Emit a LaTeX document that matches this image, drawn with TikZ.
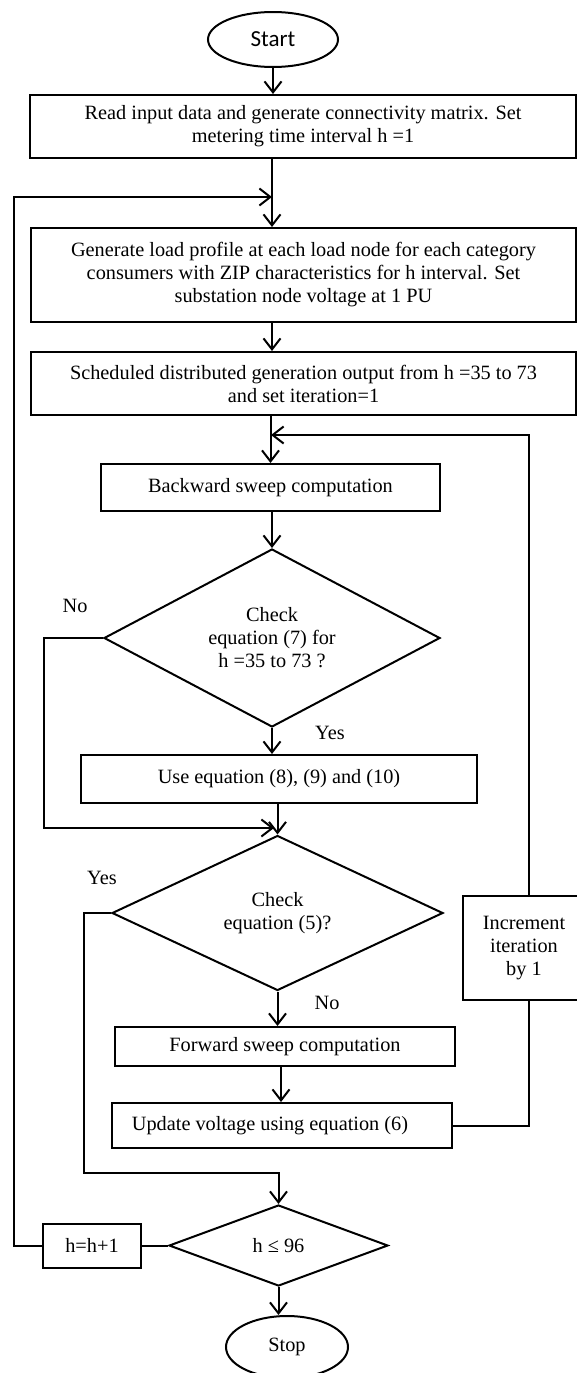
\documentclass[tikz,border=0pt]{standalone}
\usepackage{fontspec}
\setmainfont{Liberation Serif}
\newfontfamily\startfont{Carlito}
\usetikzlibrary{shapes.geometric,arrows.meta}
\begin{document}
\begin{tikzpicture}[x=1pt,y=-1pt,
  every node/.style={font=\fontsize{20.3}{23}\selectfont, inner sep=0pt},
  box/.style={draw, line width=2pt, align=center},
  dec/.style={draw, shape=diamond, line width=2pt, align=center, inner sep=0pt},
  term/.style={draw, ellipse, line width=2pt},
  conn/.style={line width=2pt},
  arr/.style={conn, -{Straight Barb[length=11pt,width=17pt,line width=2pt]}}]
\useasboundingbox (0,0) rectangle (577,1373);

% axis coordinates
\coordinate (ax) at (272,0);
\coordinate (ax3) at (281,0);
\coordinate (lx) at (14,0);
\coordinate (nx) at (44,0);
\coordinate (yx) at (84,0);
\coordinate (rx) at (529,0);
\coordinate (j1) at (272,197);
\coordinate (j2) at (271,435);
\coordinate (j3) at (274,828);
\coordinate (j4) at (278.5,1173);

% nodes
\node[term, minimum width=130pt, minimum height=55pt, font=\startfont\fontsize{23}{26}\selectfont] (start) at (273,39.5) {Start};
\node[box, minimum width=546pt, minimum height=63pt] (read) at (303,126.5)
  {Read input data and generate connectivity matrix. Set\\metering time interval h =1};
\node[box, minimum width=545pt, minimum height=94pt] (gen) at (303.5,275)
  {Generate load profile at each load node for each category\\consumers with ZIP characteristics for h interval. Set\\substation node voltage at 1 PU};
\node[box, minimum width=545pt, minimum height=63pt] (sched) at (303.5,383.5)
  {Scheduled distributed generation output from h =35 to 73\\and set iteration=1};
\node[box, minimum width=339pt, minimum height=47pt] (back) at (270.5,487.5)
  {Backward sweep computation};
\node[dec, minimum width=336pt, minimum height=178pt, aspect=1.89] (d1) at (272,638)
  {Check\\equation (7) for\\h =35 to 73 ?};
\node[box, minimum width=396pt, minimum height=48pt] (use) at (279,779)
  {Use equation (8), (9) and (10)};
\node[dec, minimum width=331pt, minimum height=155pt, aspect=2.14] (d2) at (277.5,913)
  {Check\\equation (5)?};
\node[box, minimum width=340pt, minimum height=39pt] (fwd) at (285,1046.5)
  {Forward sweep computation};
\node[box, minimum width=340pt, minimum height=45pt] (upd) at (282,1125.5)
  {\hspace*{-24pt}Update voltage using equation (6)};
\node[box, minimum width=122pt, minimum height=104pt] (inc) at (524,948)
  {Increment\\iteration\\by 1};
\node[dec, minimum width=219pt, minimum height=81pt, aspect=2.7] (d3) at (278.5,1245.5)
  {h ≤ 96};
\node[box, minimum width=98pt, minimum height=44pt] (hbox) at (92,1245.5)
  {h=h+1};
\node[term, minimum width=122pt, minimum height=62pt] (stop) at (287,1347) {Stop};

% labels
\node (no1) at (75,606) {No};
\node (yes1) at (330,733) {Yes};
\node (yes2) at (102,878) {Yes};
\node (no2) at (327,1003) {No};

% connectors
\draw[arr] (start.south) -- (start.south |- read.north);
\draw[arr] (read.south -| ax) -- (gen.north -| ax);
\draw[arr] (hbox.west) -- (hbox.west -| lx) -- (lx |- j1) -- (j1);
\draw[arr] (gen.south -| ax) -- (sched.north -| ax);
\draw[arr] (sched.south -| back.north) -- (back.north);
\draw[conn] (upd.east) -- (upd.east -| rx) -- (inc.south -| rx);
\draw[arr] (inc.north -| rx) -- (rx |- j2) -- (j2);
\draw[arr] (back.south -| d1.north) -- (d1.north);
\draw[arr] (d1.south) -- (d1.south |- use.north);
\draw[arr] (d1.west) -- (d1.west -| nx) -- (nx |- j3) -- (j3);
\draw[arr] (use.south -| d2.north) -- (d2.north);
\draw[arr] (d2.south) -- (d2.south |- fwd.north);
\draw[arr] (d2.west) -- (d2.west -| yx) -- (yx |- j4) -- (j4) -- (d3.north);
\draw[arr] (fwd.south -| ax3) -- (upd.north -| ax3);
\draw[arr] (d3.south) -- (d3.south |- stop.north);
\draw[conn] (d3.west) -- (hbox.east);
\end{tikzpicture}
\end{document}
